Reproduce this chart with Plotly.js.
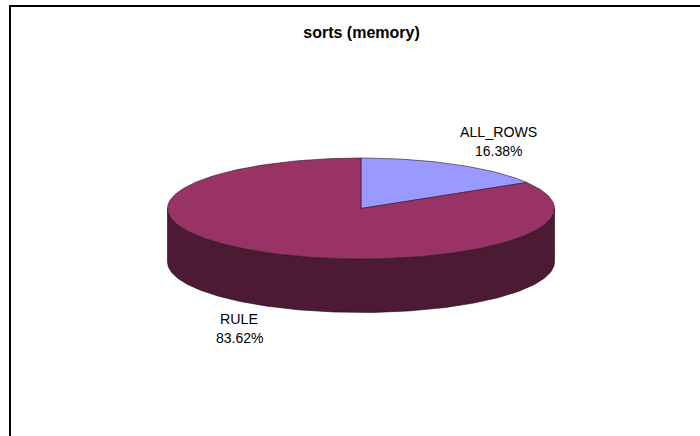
<!DOCTYPE html>
<html>
<head>
<meta charset="utf-8">
<script src="https://cdn.plot.ly/plotly-3.0.1.min.js"></script>
<style>html,body{margin:0;padding:0;background:#fff}#c{width:700px;height:436px}</style>
</head>
<body>
<div id="c"></div>
<script>
var categories = ["ALL_ROWS", "RULE"];
var values = [16.38, 83.62];
var sliceColors = ["#9999FF", "#993366"];
var sideColor = "#4C1A33";
var labelNameX = [498.5, 239];
var labelNameY = [132, 319];
var chartTitle = "sorts (memory)";

var cx = 361, cy = 208.5, rx = 193.5, ry = 50.5, depth = 53.5;
var total = values.reduce(function (a, b) { return a + b; }, 0);

function px(t) { return cx + rx * Math.sin(t); }
function py(t) { return cy - ry * Math.cos(t); }

function arc(a0, a1, n) {
  var out = [];
  for (var i = 0; i <= n; i++) out.push(a0 + (a1 - a0) * i / n);
  return out;
}

var traces = [];

// Front wall of the disc
var front = arc(Math.PI / 2, 3 * Math.PI / 2, 180);
var sx = [], sy = [];
front.forEach(function (t) { sx.push(px(t)); sy.push(py(t)); });
front.slice().reverse().forEach(function (t) { sx.push(px(t)); sy.push(py(t) + depth); });
sx.push(sx[0]); sy.push(sy[0]);
traces.push({
  type: "scatter", mode: "lines", x: sx, y: sy, fill: "toself", fillcolor: sideColor,
  line: { color: "#1a0a12", width: 0.6 }, hoverinfo: "skip", showlegend: false
});

// Top face slices, clockwise from twelve o'clock
var start = 0;
values.forEach(function (v, i) {
  var end = start + v / total * 2 * Math.PI;
  var xs = [cx], ys = [cy];
  arc(start, end, Math.max(12, Math.round(v * 3))).forEach(function (t) {
    xs.push(px(t)); ys.push(py(t));
  });
  xs.push(cx); ys.push(cy);
  traces.push({
    type: "scatter", mode: "lines", x: xs, y: ys, fill: "toself", fillcolor: sliceColors[i],
    line: { color: "#2a1a22", width: 0.6 }, name: categories[i], hoverinfo: "skip", showlegend: false
  });
  start = end;
});

var annotations = [];
categories.forEach(function (c, i) {
  annotations.push({
    x: labelNameX[i], y: labelNameY[i], xref: "x", yref: "y", text: c, showarrow: false,
    xanchor: "center", yanchor: "middle", font: { family: "Liberation Sans, Arial, sans-serif", size: 14.2, color: "#000" }
  });
  annotations.push({
    x: labelNameX[i], y: labelNameY[i] + 18.5, xref: "x", yref: "y", text: values[i].toFixed(2) + "%", showarrow: false,
    xanchor: "center", yanchor: "middle", font: { family: "Liberation Sans, Arial, sans-serif", size: 14, color: "#000" }
  });
});

var layout = {
  width: 700, height: 436,
  margin: { l: 0, r: 0, t: 0, b: 0 },
  paper_bgcolor: "#fff", plot_bgcolor: "#fff",
  showlegend: false,
  title: {
    text: "<b>" + chartTitle + "</b>", x: 361.5 / 700, xanchor: "center", xref: "paper",
    y: 1 - 32 / 436, yanchor: "middle", yref: "paper",
    font: { family: "Liberation Sans, Arial, sans-serif", size: 16, color: "#000" }
  },
  xaxis: { range: [0, 700], visible: false, fixedrange: true },
  yaxis: { range: [436, 0], visible: false, fixedrange: true },
  annotations: annotations,
  shapes: [
    { type: "line", xref: "x", yref: "y", x0: 10, x1: 700, y0: 6, y1: 6, line: { color: "#000", width: 2 } },
    { type: "line", xref: "x", yref: "y", x0: 10, x1: 10, y0: 5, y1: 436, line: { color: "#000", width: 2 } }
  ]
};

Plotly.newPlot("c", traces, layout, { staticPlot: true, displayModeBar: false });
</script>
</body>
</html>
